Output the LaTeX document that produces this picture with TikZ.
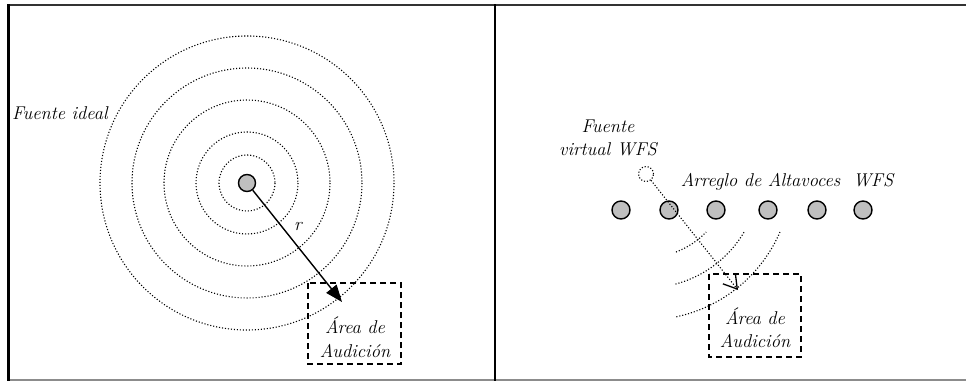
\documentclass[tikz,border=0pt]{standalone}
\usepackage{fontspec}
\usetikzlibrary{arrows.meta}

\tikzset{
  lbl/.style={font=\fontsize{18.5}{23.5}\selectfont\itshape, inner sep=0pt, align=center},
  wave/.style={line width=1.1pt, dash pattern=on 1.1pt off 1.9pt},
  spk/.style={circle, draw, line width=1.4pt, fill=black!25, minimum size=18pt, inner sep=0pt},
  area/.style={draw, line width=1.5pt, dash pattern=on 6pt off 4pt},
}

\begin{document}
\begin{tikzpicture}[x=1pt, y=-1pt]
    \useasboundingbox (0, 0) rectangle (966, 381);
    \draw[black!80, line width=2pt] (8, 5) -- (966, 5);
    \draw[black!45, line width=1.5pt] (8, 380) -- (966, 380);
    \draw[line width=2.4pt] (8.5, 4) -- (8.5, 381);
    \draw[line width=2pt] (495, 4) -- (495, 381);

    \foreach \rad in {28, 51, 83, 115, 147}
      \draw[wave] (247, 183) circle (\rad);
    \node[spk, minimum size=17pt] (src) at (247, 183) {};
    \node[lbl] (ideal) at (60, 113) {Fuente ideal};
    \draw[area] (308, 283) rectangle (401, 364);
    \node[lbl] (oyenteL) at (355, 337) {Área de\\Audición};
    \coordinate (tipL) at (342, 302);
    \draw[line width=1.4pt, -{Triangle[length=17pt, width=13pt]}] (src) -- (tipL);
    \node[lbl] (radio) at (298, 227) {r};

    \node[circle, draw, wave, minimum size=15pt, inner sep=0pt] (virt) at (646, 174) {};
    \node[lbl] (virtlbl) at (608, 138) {Fuente\\virtual WFS};
    \foreach \x [count=\i] in {621, 669, 716, 768, 817, 863}
      \node[spk] (s\i) at (\x, 210) {};
    \node[lbl] (arreglo) at (787, 182) {Arreglo de Altavoces\ \ WFS};
    \draw[wave] (646, 174) ++(69:83.6) arc[start angle=69, end angle=44, radius=83.6];
    \draw[wave] (646, 174) ++(75:114) arc[start angle=75, end angle=30, radius=114];
    \draw[wave] (646, 174) ++(78:146) arc[start angle=78, end angle=23, radius=146];
    \draw[area] (709, 274) rectangle (801, 357);
    \node[lbl] (oyenteR) at (755, 328) {Área de\\Audición};
    \coordinate (tipR) at (738, 290);
    \draw[wave, -{Straight Barb[length=13pt, width=16pt, line width=1.3pt]}] (virt) -- (tipR);
\end{tikzpicture}
\end{document}
